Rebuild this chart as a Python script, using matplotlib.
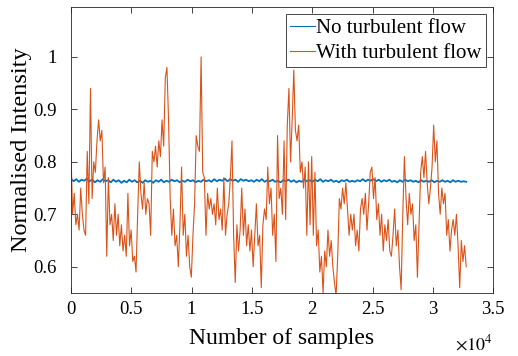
import numpy as np
import matplotlib
matplotlib.use("Agg")
import matplotlib.pyplot as plt
from matplotlib.ticker import FuncFormatter

n_samples = 32768

# with turbulent flow (left to right)
turb = [
    0.82, 0.70, 0.74, 0.68, 0.70, 0.67, 0.75, 0.70, 0.67, 0.66,
    0.82, 0.72, 0.94, 0.73, 0.80, 0.78, 0.84, 0.88, 0.84, 0.86,
    0.76, 0.79, 0.62, 0.77, 0.68, 0.70, 0.65, 0.72, 0.66, 0.70,
    0.64, 0.68, 0.63, 0.66, 0.62, 0.74, 0.64, 0.67, 0.61, 0.62,
    0.59, 0.70, 0.80, 0.74, 0.71, 0.76, 0.70, 0.73,
    0.72, 0.66, 0.82, 0.80, 0.83, 0.79, 0.84, 0.81, 0.88, 0.83,
    0.96, 0.98, 0.88, 0.73, 0.66, 0.71, 0.64, 0.66, 0.60, 0.68,
    0.79, 0.66, 0.70, 0.62, 0.66, 0.60, 0.58, 0.66, 0.72, 0.85,
    0.83, 0.82, 1.00, 0.78, 0.77, 0.66, 0.74, 0.71, 0.73, 0.70,
    0.72, 0.68, 0.75, 0.69, 0.71, 0.67, 0.77, 0.66, 0.70,
    0.72, 0.77, 0.84, 0.66, 0.57, 0.68, 0.63, 0.67, 0.75, 0.66,
    0.71, 0.64, 0.68, 0.63, 0.67, 0.60, 0.66, 0.72, 0.64, 0.66,
    0.56, 0.68, 0.71, 0.69, 0.79, 0.72, 0.75, 0.66, 0.70, 0.61,
    0.85, 0.73, 0.75, 0.70, 0.84, 0.69, 0.87, 0.94, 0.80, 0.88,
    0.975, 0.86, 0.84, 0.87, 0.78, 0.80, 0.75, 0.79, 0.66,
    0.80, 0.68, 0.81, 0.66, 0.78, 0.64, 0.67, 0.59, 0.62, 0.55,
    0.63, 0.60, 0.67, 0.62, 0.65, 0.60, 0.57, 0.545, 0.62, 0.73,
    0.71, 0.75, 0.72, 0.76, 0.71, 0.66, 0.70, 0.67, 0.70, 0.64,
    0.67, 0.63, 0.71, 0.73, 0.70, 0.74, 0.67, 0.72, 0.78, 0.79,
    0.73, 0.77, 0.69, 0.72, 0.66, 0.70, 0.63, 0.68, 0.65, 0.69,
    0.63,
    0.62, 0.66, 0.71, 0.64, 0.67, 0.60, 0.556, 0.70, 0.81, 0.73,
    0.68, 0.74, 0.70, 0.72, 0.65, 0.68, 0.58, 0.68, 0.78, 0.81,
    0.77, 0.82, 0.76, 0.72, 0.75, 0.79, 0.87, 0.80, 0.84, 0.74,
    0.70, 0.75, 0.72, 0.74, 0.66, 0.69, 0.63, 0.67, 0.69, 0.66,
    0.70, 0.64, 0.56, 0.65, 0.61, 0.64, 0.60,
]

# without turbulent flow (almost flat, small jitter)
calm = [
    0.768, 0.763, 0.767, 0.762, 0.766, 0.764, 0.768, 0.763, 0.766, 0.761,
    0.765, 0.762, 0.767, 0.763, 0.765, 0.761, 0.766, 0.762, 0.765, 0.760,
    0.764, 0.761, 0.766, 0.762, 0.765, 0.761, 0.764, 0.760, 0.765, 0.762,
    0.764, 0.760, 0.765, 0.762, 0.766, 0.761, 0.764, 0.762, 0.766, 0.763,
    0.765, 0.761, 0.764, 0.762, 0.766, 0.763, 0.765, 0.761, 0.764, 0.762,
    0.766, 0.763, 0.765, 0.762, 0.767, 0.763, 0.766, 0.764, 0.768, 0.763,
    0.767, 0.764, 0.766, 0.762, 0.767, 0.764, 0.766, 0.763, 0.765, 0.762,
    0.766, 0.763, 0.767, 0.762, 0.765, 0.763, 0.766, 0.762, 0.764, 0.761,
    0.765, 0.763, 0.766, 0.762, 0.765, 0.761, 0.764, 0.762, 0.766, 0.763,
    0.765, 0.762, 0.766, 0.763, 0.767, 0.762, 0.765, 0.763, 0.766, 0.762,
    0.764, 0.761, 0.765, 0.763, 0.766, 0.762, 0.764, 0.762, 0.765, 0.763,
    0.767, 0.763, 0.766, 0.764, 0.767, 0.763, 0.766, 0.762, 0.765, 0.763,
    0.766, 0.762, 0.764, 0.761, 0.765, 0.762, 0.766, 0.763, 0.765, 0.762,
    0.764, 0.761, 0.765, 0.762, 0.764, 0.762, 0.765, 0.761, 0.764, 0.762,
    0.765, 0.762, 0.764, 0.761, 0.765, 0.762, 0.764, 0.762, 0.763, 0.762,
]

x_turb = np.linspace(0, n_samples, len(turb))
x_calm = np.linspace(0, n_samples, len(calm))

plt.rcParams["font.family"] = ["Liberation Serif", "DejaVu Serif"]
plt.rcParams["mathtext.fontset"] = "stix"

fig = plt.figure(figsize=(5.18, 3.56), dpi=100)
ax = fig.add_axes([0.137, 0.177, 0.815, 0.803])

ax.plot(x_calm, calm, color="#0072BD", linewidth=1.3, label="No turbulent flow")
ax.plot(x_turb, turb, color="#D95319", linewidth=0.8, label="With turbulent flow")

ax.set_xlim(0, 35000)
ax.set_ylim(0.55, 1.095)
ax.set_xticks(np.arange(0, 35001, 5000))
ax.xaxis.set_major_formatter(FuncFormatter(lambda v, p: f"{v / 1e4:g}"))
ax.set_yticks([0.6, 0.7, 0.8, 0.9, 1.0])
ax.yaxis.set_major_formatter(FuncFormatter(lambda v, p: f"{v:g}"))

ax.tick_params(direction="in", top=True, right=True, length=4, width=0.6,
               labelsize=13.5, colors="#262626", labelcolor="black")
ax.tick_params(axis="x", pad=6)
ax.tick_params(axis="y", pad=10)
for s in ax.spines.values():
    s.set_color("#262626")
    s.set_linewidth(0.6)

ax.set_xlabel("Number of samples", fontsize=17, labelpad=7)
ax.set_ylabel("Normalised Intensity", fontsize=17.5, labelpad=1)
ax.text(1.0, -0.145, r"$\times10^{4}$", transform=ax.transAxes,
        ha="right", va="top", fontsize=13)

leg = ax.legend(loc="upper right", fontsize=15, handlelength=1.2,
                handletextpad=0.05, borderpad=0.2, labelspacing=0.25,
                borderaxespad=0.35, fancybox=False, framealpha=1)
leg.get_frame().set_edgecolor("#262626")
leg.get_frame().set_linewidth(0.6)
for h in leg.get_lines():
    h.set_linewidth(0.8)

fig.savefig("out.png", dpi=100)
